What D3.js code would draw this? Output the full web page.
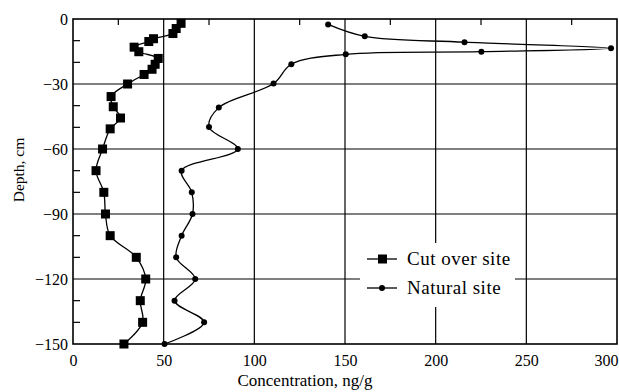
<!DOCTYPE html>
<html>
<head>
<meta charset="utf-8">
<script src="https://cdn.jsdelivr.net/npm/d3@7"></script>
<style>
  body { margin: 0; background: #fff; }
  text { font-family: "Liberation Serif", "Times New Roman", serif; fill: #000; }
</style>
</head>
<body>
<svg width="619" height="392"></svg>
<script>
// cut over site (squares)
var cutDepth = [-2, -4.4, -6.7, -9.1, -10.4, -13, -15.1, -18.2, -20.9, -23.2, -25.6, -30, -35.8, -40.5, -45.7, -50.7, -60, -70, -80, -90, -100, -110, -120, -130, -140, -150];
var cutConc = [59.6, 56.9, 55.1, 44.4, 41.8, 33.7, 36.3, 47, 45.3, 43.6, 39.2, 30.1, 21, 22.2, 26.2, 20.5, 16.3, 12.7, 17, 17.9, 20.5, 34.9, 40.1, 37.1, 38.4, 28.1];

// natural site (circles)
var natDepth = [-2.5, -8, -10.7, -13.5, -15.1, -16.3, -20.9, -29.8, -40.9, -49.9, -60, -70, -80, -90, -100, -110, -120, -130, -140, -150];
var natConc = [140.7, 160.9, 215.9, 296.7, 225.2, 150.4, 120.4, 110.6, 80.4, 75, 90.9, 59.9, 65.5, 65.9, 59.9, 56.9, 67.4, 56, 72.3, 50.5];

var xTicks = [0, 50, 100, 150, 200, 250, 300];
var yTicks = [0, -30, -60, -90, -120, -150];
var xMinor = [25, 75, 125, 175, 225, 275];
var yMinor = [-10, -20, -40, -50, -70, -80, -100, -110, -130, -140];
var seriesNames = ["Cut over site", "Natural site"];

var svg = d3.select("svg"),
    pLeft = 73, pRight = 617, pTop = 19, pBottom = 344;

var x = d3.scaleLinear().domain([0, 300]).range([pLeft, pRight]);
var y = d3.scaleLinear().domain([-150, 0]).range([pBottom, pTop]);

var cutData = cutDepth.map(function (d, i) { return { x: cutConc[i], y: d }; });
var natData = natDepth.map(function (d, i) { return { x: natConc[i], y: d }; });

// grid
var grid = svg.append("g").attr("stroke", "#000").attr("stroke-width", 1.2);
grid.selectAll("line.vx").data(xTicks.slice(1, -1)).enter().append("line")
  .attr("x1", function (d) { return x(d); }).attr("x2", function (d) { return x(d); })
  .attr("y1", pTop).attr("y2", pBottom);
grid.selectAll("line.hy").data(yTicks.slice(1, -1)).enter().append("line")
  .attr("y1", function (d) { return y(d); }).attr("y2", function (d) { return y(d); })
  .attr("x1", pLeft).attr("x2", pRight);

// minor ticks (top and left, inward)
grid.selectAll("line.mx").data(xMinor).enter().append("line")
  .attr("x1", function (d) { return x(d); }).attr("x2", function (d) { return x(d); })
  .attr("y1", pTop).attr("y2", pTop + 6);
grid.selectAll("line.my").data(yMinor).enter().append("line")
  .attr("y1", function (d) { return y(d); }).attr("y2", function (d) { return y(d); })
  .attr("x1", pLeft).attr("x2", pLeft + 7);

// legend background hides grid
var legend = svg.append("g");
legend.append("rect").attr("x", 360).attr("y", 243).attr("width", 155).attr("height", 64).attr("fill", "#fff");

var line = d3.line()
  .x(function (d) { return x(d.x); })
  .y(function (d) { return y(d.y); })
  .curve(d3.curveCatmullRom.alpha(0.5));

svg.append("path").datum(cutData).attr("d", line)
  .attr("fill", "none").attr("stroke", "#000").attr("stroke-width", 1.3);
svg.append("path").datum(natData).attr("d", line)
  .attr("fill", "none").attr("stroke", "#000").attr("stroke-width", 1.3);

svg.append("g").selectAll("rect").data(cutData).enter().append("rect")
  .attr("x", function (d) { return x(d.x) - 4.5; })
  .attr("y", function (d) { return y(d.y) - 4.5; })
  .attr("width", 9).attr("height", 9).attr("fill", "#000");

svg.append("g").selectAll("circle").data(natData).enter().append("circle")
  .attr("cx", function (d) { return x(d.x); })
  .attr("cy", function (d) { return y(d.y); })
  .attr("r", 3).attr("fill", "#000");

// frame
svg.append("rect").attr("x", pLeft).attr("y", pTop).attr("width", pRight - pLeft).attr("height", pBottom - pTop)
  .attr("fill", "none").attr("stroke", "#000").attr("stroke-width", 1.6);

// axes labels
var xAxis = svg.append("g").attr("transform", "translate(0," + pBottom + ")")
  .call(d3.axisBottom(x).tickValues(xTicks).tickSize(0).tickPadding(11));
xAxis.select(".domain").remove();
xAxis.selectAll("text").attr("font-size", 16).attr("font-family", "Liberation Serif, serif");
xAxis.selectAll(".tick:last-of-type text").attr("text-anchor", "end").attr("x", 1);

var yAxis = svg.append("g").attr("transform", "translate(" + pLeft + ",0)")
  .call(d3.axisLeft(y).tickValues(yTicks).tickSize(0).tickPadding(5));
yAxis.select(".domain").remove();
yAxis.selectAll("text").attr("font-size", 16).attr("font-family", "Liberation Serif, serif");

svg.append("text").attr("x", 305).attr("y", 386).attr("text-anchor", "middle")
  .attr("font-size", 17).text("Concentration, ng/g");

svg.append("text").attr("transform", "translate(24,170) rotate(-90)").attr("text-anchor", "middle")
  .attr("font-size", 15.5).text("Depth, cm");

// legend entries
var items = legend.selectAll("g.item").data(seriesNames).enter().append("g")
  .attr("transform", function (d, i) { return "translate(367," + (259 + i * 29) + ")"; });
items.append("line").attr("x1", 0).attr("x2", 30).attr("stroke", "#000").attr("stroke-width", 1.3);
items.filter(function (d, i) { return i == 0; }).append("rect")
  .attr("x", 11).attr("y", -4.5).attr("width", 9).attr("height", 9).attr("fill", "#000");
items.filter(function (d, i) { return i == 1; }).append("circle")
  .attr("cx", 15).attr("r", 3).attr("fill", "#000");
items.append("text").attr("x", 40).attr("y", 6).attr("font-size", 19).attr("letter-spacing", 0.5)
  .text(function (d) { return d; });
</script>
</body>
</html>
